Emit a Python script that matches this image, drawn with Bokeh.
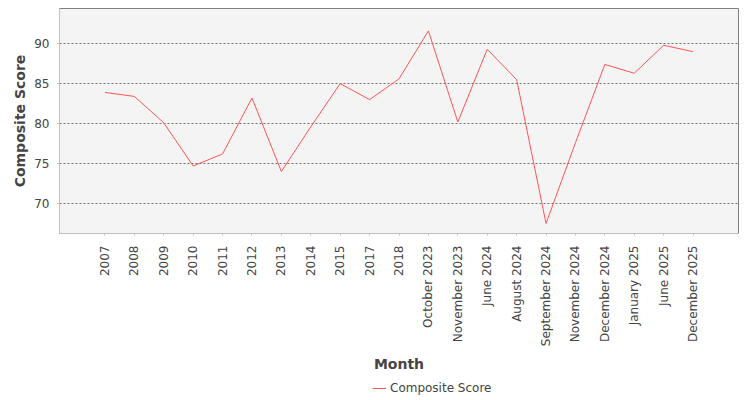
from bokeh.models import ColumnDataSource, FactorRange, Range1d, FixedTicker, Legend, LegendItem
from bokeh.plotting import figure
from bokeh.layouts import column
from bokeh.embed import file_html
from bokeh.resources import INLINE
import math

months = ["2007", "2008", "2009", "2010", "2011", "2012", "2013", "2014", "2015",
          "2017", "2018", "October 2023", "November 2023", "June 2024", "August 2024",
          "September 2024", "November 2024", "December 2024", "January 2025",
          "June 2025", "December 2025"]
composite_score = [83.9, 83.4, 80.1, 74.7, 76.2, 83.2, 74.0, 79.6, 85.0,
                   83.0, 85.6, 91.6, 80.2, 89.3, 85.5,
                   67.5, 77.6, 87.4, 86.3, 89.8, 89.0]
y_ticks = [70, 75, 80, 85, 90]

FONT = "DejaVu Sans"
LINE_COLOR = "#ff5555"

source = ColumnDataSource(data={"month": months, "score": composite_score})

# main chart: fixed size, bottom border reserved for the rotated month labels
p = figure(width=742, height=375, output_backend="svg", toolbar_location=None,
           x_range=FactorRange(factors=months, range_padding=1.045, range_padding_units="absolute"),
           y_range=Range1d(66.25, 94.4),
           x_axis_label="Month", y_axis_label="Composite Score",
           min_border_left=59, min_border_top=8, min_border_right=4, min_border_bottom=142)

p.background_fill_color = "#f4f4f4"
p.border_fill_color = "white"
p.outline_line_color = "#808080"
p.outline_line_width = 1

p.line(x="month", y="score", source=source, line_color=LINE_COLOR, line_width=1)

p.xgrid.grid_line_color = None
p.ygrid.grid_line_color = "#707070"
p.ygrid.grid_line_dash = "2 2"
p.ygrid.grid_line_width = 1

p.yaxis.ticker = FixedTicker(ticks=y_ticks)
p.yaxis.minor_tick_line_color = None

for ax in (p.xaxis[0], p.yaxis[0]):
    ax.axis_line_color = "#c0c0c0"
    ax.major_tick_line_color = "#c0c0c0"
    ax.major_tick_out = 2
    ax.major_tick_in = 0
    ax.major_label_text_font = FONT
    ax.major_label_text_font_size = "12px"
    ax.major_label_text_color = "#444444"
    ax.axis_label_text_font = FONT
    ax.axis_label_text_font_size = "14px"
    ax.axis_label_text_font_style = "bold"
    ax.axis_label_text_color = "#444444"

p.xaxis.major_label_orientation = math.pi / 2
p.xaxis.major_label_standoff = 10
p.xaxis.axis_label_standoff = 7
p.yaxis.major_label_standoff = 8
p.yaxis.axis_label_standoff = 3

# legend strip: a small figure whose line sits outside its y range,
# so only the legend entry is visible
lf = figure(width=742, height=25, output_backend="svg", toolbar_location=None,
            x_range=FactorRange(factors=months), y_range=Range1d(0, 1),
            x_axis_type=None, y_axis_type=None,
            min_border_left=0, min_border_right=0, min_border_top=0, min_border_bottom=0)
lf.outline_line_color = None
lf.background_fill_color = "white"
lf.border_fill_color = "white"
lf.xgrid.grid_line_color = None
lf.ygrid.grid_line_color = None
lr = lf.line(x="month", y="score", source=source, line_color=LINE_COLOR, line_width=1)

legend = Legend(items=[LegendItem(label="Composite Score", renderers=[lr])],
                location=(313, 5), orientation="horizontal",
                label_text_font=FONT, label_text_font_size="12px",
                label_text_color="#444444", glyph_width=14, glyph_height=14,
                label_height=14, label_standoff=4, padding=0, margin=0, spacing=0,
                border_line_color=None, background_fill_alpha=0)
lf.add_layout(legend)

open("out.html", "w").write(file_html(column(p, lf), INLINE))
